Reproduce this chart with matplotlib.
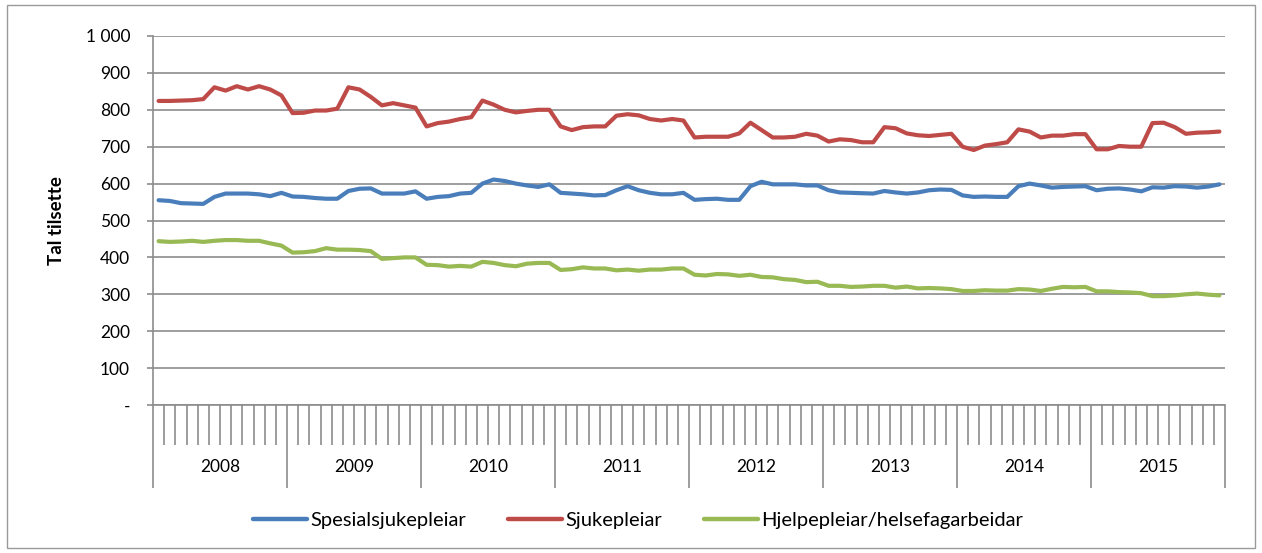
import numpy as np
import matplotlib
matplotlib.use("Agg")
import matplotlib.pyplot as plt
from matplotlib.patches import Rectangle
from matplotlib.transforms import blended_transform_factory

years = ["2008", "2009", "2010", "2011", "2012", "2013", "2014", "2015"]

spesialsjukepleiar = [
    555, 553, 547, 546, 545, 564, 573, 573, 573, 571, 566, 575,
    565, 564, 561, 559, 559, 580, 586, 587, 573, 573, 573, 579,
    559, 564, 566, 573, 575, 600, 611, 607, 600, 595, 591, 598,
    575, 573, 571, 568, 569, 582, 593, 582, 575, 571, 571, 575,
    556, 558, 559, 556, 556, 593, 605, 598, 598, 598, 595, 595,
    582, 576, 575, 574, 573, 580, 576, 573, 576, 582, 584, 583,
    568, 564, 565, 564, 564, 593, 600, 595, 589, 591, 592, 593,
    582, 586, 587, 584, 579, 590, 589, 593, 592, 589, 592, 598,
]

sjukepleiar = [
    824, 824, 825, 826, 829, 861, 852, 864, 855, 864, 855, 839,
    791, 792, 798, 798, 803, 861, 855, 835, 812, 818, 812, 806,
    755, 764, 768, 775, 780, 825, 814, 800, 793, 797, 800, 800,
    755, 745, 753, 755, 755, 784, 788, 785, 775, 771, 775, 771,
    725, 727, 727, 727, 736, 765, 745, 725, 725, 727, 735, 730,
    714, 720, 718, 712, 712, 753, 750, 736, 731, 729, 732, 735,
    700, 691, 703, 707, 712, 747, 741, 725, 730, 730, 734, 734,
    693, 693, 702, 700, 700, 764, 765, 753, 735, 738, 739, 741,
]

hjelpepleiar = [
    444, 442, 443, 445, 442, 445, 447, 447, 445, 445, 438, 432,
    413, 414, 417, 425, 421, 421, 420, 417, 396, 398, 400, 400,
    380, 379, 375, 377, 375, 388, 385, 379, 376, 383, 385, 385,
    366, 368, 373, 370, 370, 365, 367, 364, 367, 367, 370, 370,
    353, 351, 355, 354, 350, 353, 347, 346, 341, 339, 333, 334,
    323, 323, 320, 321, 323, 323, 318, 321, 316, 317, 316, 314,
    309, 309, 311, 310, 310, 314, 313, 309, 315, 320, 319, 320,
    308, 308, 306, 305, 303, 295, 295, 297, 300, 302, 299, 297,
]

series_names = ["Spesialsjukepleiar", "Sjukepleiar", "Hjelpepleiar/helsefagarbeidar"]
colors = ["#4A7EBB", "#BE4B48", "#98B954"]

W, H = 1262, 553
fig = plt.figure(figsize=(W / 100, H / 100), dpi=100)
plt.rcParams["font.family"] = ["Lato", "DejaVu Sans"]

# outer border
fig.patches.append(Rectangle((7 / W, 5 / H), (1255 - 7) / W, (548 - 5) / H,
                             transform=fig.transFigure, fill=False,
                             edgecolor="#9a9a9a", linewidth=1.0))

left, right = 153 / W, 1225 / W
bottom, top = (H - 405) / H, (H - 36) / H
ax = fig.add_axes([left, bottom, right - left, top - bottom])

n = len(spesialsjukepleiar)
x = np.arange(n) + 0.5
data = [spesialsjukepleiar, sjukepleiar, hjelpepleiar]
for name, vals, c in zip(series_names, data, colors):
    ax.plot(x, vals, color=c, linewidth=3.0, label=name,
            solid_capstyle="round", solid_joinstyle="round")

ax.set_xlim(0, n)
ax.set_ylim(0, 1000)
yt = np.arange(0, 1001, 100)
ax.set_yticks(yt)
ax.set_yticklabels(["-" if v == 0 else (f"{v:,}".replace(",", " ")) for v in yt],
                   fontsize=12.5)
ax.yaxis.grid(True, color="#8c8c8c", linewidth=1.2)
ax.set_axisbelow(True)
for s in ["top", "right"]:
    ax.spines[s].set_visible(False)
ax.spines["left"].set_color("#8c8c8c")
ax.spines["bottom"].set_color("#8c8c8c")
ax.spines["left"].set_linewidth(1.2)
ax.spines["bottom"].set_linewidth(1.2)
ax.tick_params(axis="y", length=4.5, color="#8c8c8c", width=1.2, pad=12)

major = np.arange(0, n + 1, 12)
minor = [i for i in range(1, n) if i % 12 != 0]
ax.set_xticks(major)
ax.set_xticklabels([""] * len(major))
ax.set_xticks(minor, minor=True)
ax.tick_params(axis="x", which="major", length=60, color="#8c8c8c", width=1.2, direction="out")
ax.tick_params(axis="x", which="minor", length=29, color="#8c8c8c", width=1.2, direction="out")

trans = blended_transform_factory(ax.transData, fig.transFigure)
for k, yr in enumerate(years):
    ax.text(12 * k + 6, (H - 467) / H, yr, transform=trans, ha="center",
            va="center", fontsize=12.5)

fig.text(57 / W, (H - 221) / H, "Tal tilsette", rotation=90, ha="center",
         va="center", fontsize=13.5, fontweight="bold")

leg = fig.legend(loc="center", bbox_to_anchor=(638 / W, (H - 520) / H), ncol=3,
                 frameon=False, fontsize=14.5, handlelength=2.68, handletextpad=0.15,
                 columnspacing=2.1)
for line in leg.get_lines():
    line.set_linewidth(3.2)

fig.savefig("out.png", dpi=100)
